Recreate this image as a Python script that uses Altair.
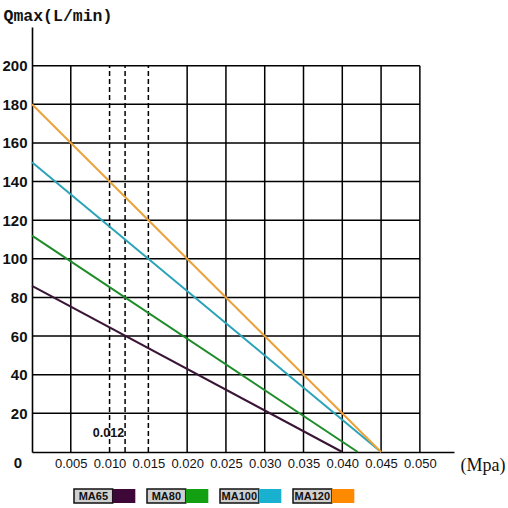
import altair as alt
import pandas as pd

# ---- data ----
series = ["MA65", "MA80", "MA100", "MA120"]
q_at_zero = [86, 112, 150, 180]            # L/min at 0 MPa
p_at_zero_flow = [0.040, 0.042, 0.045, 0.045]  # MPa where flow reaches 0
line_colors = ["#3a1535", "#1e8c28", "#2aa3b8", "#eba23a"]
swatch_colors = ["#3d0838", "#12a012", "#1ab0d0", "#ff8a00"]

x_ticks = [0.005, 0.010, 0.015, 0.020, 0.025, 0.030, 0.035, 0.040, 0.045, 0.050]
dashed_x = [0.010, 0.012, 0.015]
y_ticks = [20, 40, 60, 80, 100, 120, 140, 160, 180, 200]
marker_label = "0.012"

# ---- tables ----
rows = []
for s, q, p in zip(series, q_at_zero, p_at_zero_flow):
    rows.append({"series": s, "p": 0.0, "q": q})
    rows.append({"series": s, "p": p, "q": 0})
lines_df = pd.DataFrame(rows)

solid_x_df = pd.DataFrame({"x": [v for v in x_ticks if v not in dashed_x]})
dash_x_df = pd.DataFrame({"x": dashed_x})
grid_y_df = pd.DataFrame({"y": y_ticks})
legend_df = pd.DataFrame({"idx": list(range(len(series))), "name": series, "col": swatch_colors})

X_MAX_GRID = 0.050
Y_MAX_GRID = 200
xscale = alt.Scale(domain=[0, 0.0544], nice=False, zero=True)
yscale = alt.Scale(domain=[0, 220], nice=False, zero=True)

x_axis = alt.Axis(
    values=x_ticks, grid=False, ticks=False, domainColor="black", domainWidth=1.6,
    format=".3f",
    labelFont="Liberation Sans", labelOverlap=False,
    labelFontSize=13, labelColor="#111", labelPadding=5,
    title="(Mpa)", titleFont="Liberation Serif", titleFontSize=18, titleFontWeight="normal",
    titleAngle=0, titleAlign="left", titleBaseline="middle", titleX=428, titleY=13,
    titleColor="#111",
)
y_axis = alt.Axis(
    values=y_ticks, grid=False, ticks=False, domainColor="black", domainWidth=1.6,
    labelFont="Liberation Sans", labelFontSize=15, labelFontWeight="bold",
    labelColor="#111", labelPadding=5,
    title="Qmax(L/min)", titleFont="Liberation Mono", titleFontSize=16.5,
    titleFontWeight="bold", titleAngle=0, titleAlign="left", titleBaseline="middle",
    titleX=-29, titleY=-12, titleColor="#111",
)

vgrid = alt.Chart(solid_x_df).mark_rule(color="black", strokeWidth=1.5).encode(
    x=alt.X("x:Q", scale=xscale, axis=x_axis),
    y=alt.Y("y0:Q", scale=yscale, axis=y_axis),
    y2="y1:Q",
).transform_calculate(y0="0", y1=str(Y_MAX_GRID))

vdash = alt.Chart(dash_x_df).mark_rule(color="black", strokeWidth=1.5, strokeDash=[5, 3]).encode(
    x=alt.X("x:Q", scale=xscale),
    y=alt.Y("y0:Q", scale=yscale),
    y2="y1:Q",
).transform_calculate(y0="0", y1=str(Y_MAX_GRID))

hgrid = alt.Chart(grid_y_df).mark_rule(color="black", strokeWidth=1.5).encode(
    y=alt.Y("y:Q", scale=yscale),
    x=alt.X("x0:Q", scale=xscale),
    x2="x1:Q",
).transform_calculate(x0="0", x1=str(X_MAX_GRID))

curves = alt.Chart(lines_df).mark_line(strokeWidth=2).encode(
    x=alt.X("p:Q", scale=xscale),
    y=alt.Y("q:Q", scale=yscale),
    color=alt.Color("series:N", scale=alt.Scale(domain=series, range=line_colors), legend=None),
    detail="series:N",
)

marker = alt.Chart(pd.DataFrame({"x": [0.012], "y": [10], "t": [marker_label]})).mark_text(
    align="right", baseline="middle", dx=-1,
    font="Liberation Sans", fontSize=12.5, fontWeight="bold", color="#111",
).encode(x=alt.X("x:Q", scale=xscale), y=alt.Y("y:Q", scale=yscale), text="t:N")

origin = alt.Chart(pd.DataFrame({"x": [0], "y": [0], "t": ["0"]})).mark_text(
    align="center", baseline="middle", dx=-14, dy=11,
    font="Liberation Sans", fontSize=15, fontWeight="bold", color="#111",
).encode(x=alt.X("x:Q", scale=xscale), y=alt.Y("y:Q", scale=yscale), text="t:N")

main = alt.layer(vgrid, hgrid, vdash, curves, marker, origin)

# ---- custom legend (label box followed by colour swatch) ----
lscale = alt.Scale(domain=[0, 4], range=[42, 334], nice=False, zero=False)
leg = alt.Chart(legend_df).transform_calculate(
    bx="datum.idx", bx2="datum.idx + 0.53", sx2="datum.idx + 0.84", tx="datum.idx + 0.265"
)
leg_box = leg.mark_rect(fill="#d0d0d0", stroke="#111", strokeWidth=1.5).encode(
    x=alt.X("bx:Q", scale=lscale, axis=None), x2="bx2:Q",
    y=alt.value(462), y2=alt.value(476),
)
leg_sw = leg.mark_rect().encode(
    x=alt.X("bx2:Q", scale=lscale, axis=None), x2="sx2:Q",
    y=alt.value(462), y2=alt.value(476),
    fill=alt.Color("col:N", scale=None),
)
leg_txt = leg.mark_text(
    align="center", baseline="middle",
    font="Liberation Sans", fontSize=11, fontWeight="bold", color="#111",
).encode(x=alt.X("tx:Q", scale=lscale, axis=None), y=alt.value(469.5), text="name:N")
legend = alt.layer(leg_box, leg_sw, leg_txt)

chart = alt.layer(main, legend).resolve_scale(x="independent").properties(
    width=422, height=425,
    autosize=alt.AutoSizeParams(type="none"),
    padding={"left": 32, "top": 27, "right": 54, "bottom": 56},
    background="white",
).configure_view(stroke=None)

chart.save("out.html", embed_options={"renderer": "svg", "actions": False})
